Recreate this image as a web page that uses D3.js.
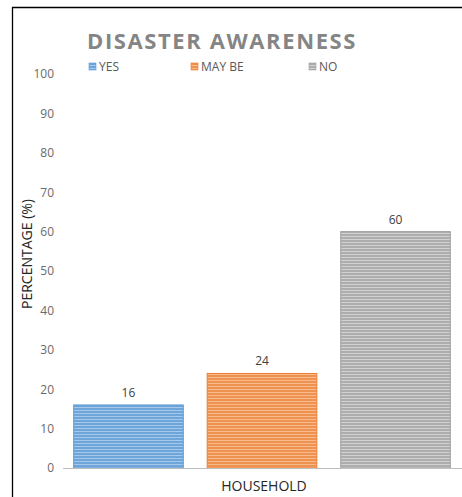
<!DOCTYPE html>
<html>
<head>
<meta charset="utf-8">
<script src="https://cdn.jsdelivr.net/npm/d3@7"></script>
<style>
  html, body { margin: 0; padding: 0; background: #fff; }
  svg { display: block; }
  text { font-family: "Open Sans", "Noto Sans", sans-serif; }
</style>
</head>
<body>
<svg id="chart" width="462" height="497"></svg>
<script>
// Survey results: disaster awareness among households (percent)
const categories = ["HOUSEHOLD"];
const seriesNames = ["YES", "MAY BE", "NO"];
const seriesValues = [16, 24, 60];
const yTicks = [0, 10, 20, 30, 40, 50, 60, 70, 80, 90, 100];
const seriesColors = ["#6fa6da", "#f0924f", "#adadad"];
const seriesLight = ["#a4c8eb", "#f6bb8f", "#d2d2d2"];
const seriesEdge = ["#5b9bd5", "#ed7d31", "#a0a0a0"];

const svg = d3.select("#chart");
const W = 462, H = 497;

// outer frame (left and top edges visible)
svg.append("line").attr("x1", 12.5).attr("x2", 12.5).attr("y1", 7).attr("y2", H).attr("stroke", "#000").attr("stroke-width", 1.3);
svg.append("line").attr("x1", 12).attr("x2", W).attr("y1", 7.5).attr("y2", 7.5).attr("stroke", "#000").attr("stroke-width", 1.3);

// horizontal striped fills
const defs = svg.append("defs");
seriesNames.forEach((s, i) => {
  const p = defs.append("pattern")
    .attr("id", "stripe" + i)
    .attr("patternUnits", "userSpaceOnUse")
    .attr("width", 6).attr("height", 3);
  p.append("rect").attr("width", 6).attr("height", 3).attr("fill", seriesLight[i]);
  p.append("rect").attr("width", 6).attr("height", 2).attr("fill", seriesColors[i]);
});

const margin = { left: 63, right: 1, top: 74, bottom: 29 };
const x0 = d3.scaleBand().domain(categories).range([margin.left, W - margin.right]).paddingInner(0).paddingOuter(0);
const x1 = d3.scaleBand().domain(seriesNames).range([0, x0.bandwidth()]).paddingInner(24 / 134).paddingOuter(0.08);
const y = d3.scaleLinear().domain([0, 100]).range([H - margin.bottom, margin.top]);

// y axis labels
const yAxis = svg.append("g").attr("transform", `translate(${margin.left},0)`)
  .call(d3.axisLeft(y).tickValues(yTicks).tickSize(0).tickPadding(9));
yAxis.select(".domain").remove();
yAxis.selectAll("text").attr("fill", "#6a6a6a").style("font-size", "12px");

// bars
const g = svg.append("g");
categories.forEach(c => {
  seriesNames.forEach((s, i) => {
    const v = seriesValues[i];
    const bx = x0(c) + x1(s);
    g.append("rect")
      .attr("x", bx).attr("y", y(v))
      .attr("width", x1.bandwidth()).attr("height", y(0) - y(v))
      .attr("fill", `url(#stripe${i})`)
      .attr("stroke", seriesEdge[i]).attr("stroke-width", 1);
    g.append("text")
      .attr("x", bx + x1.bandwidth() / 2).attr("y", y(v) - 8)
      .attr("text-anchor", "middle").attr("fill", "#404040")
      .style("font-size", "12px").text(v);
  });
});

// x axis line and category label
svg.append("line").attr("x1", margin.left).attr("x2", W).attr("y1", y(0) + 0.5).attr("y2", y(0) + 0.5)
  .attr("stroke", "#bfbfbf").attr("stroke-width", 1);
svg.append("text").attr("x", x0(categories[0]) + x0.bandwidth() / 2 + 2).attr("y", 491)
  .attr("text-anchor", "middle").attr("fill", "#262626").style("font-size", "14px").text(categories[0]);

// axis title
svg.append("text").attr("transform", "translate(32,254) rotate(-90)")
  .attr("text-anchor", "middle").attr("fill", "#262626").style("font-size", "14px").text("PERCENTAGE (%)");

// chart title
svg.append("text").attr("x", 87).attr("y", 49)
  .attr("fill", "#858585").style("font-size", "22px").style("font-weight", "bold")
  .style("letter-spacing", "1.6px").text("DISASTER AWARENESS");

// legend
const legendX = [89, 191, 309];
seriesNames.forEach((s, i) => {
  const lg = svg.append("g").attr("transform", `translate(${legendX[i]},63)`);
  lg.append("rect").attr("width", 7).attr("height", 7).attr("fill", `url(#stripe${i})`)
    .attr("stroke", seriesEdge[i]).attr("stroke-width", 0.6);
  lg.append("text").attr("x", 10).attr("y", 7.5).attr("fill", "#595959").style("font-size", "12px").text(s);
});
</script>
</body>
</html>
